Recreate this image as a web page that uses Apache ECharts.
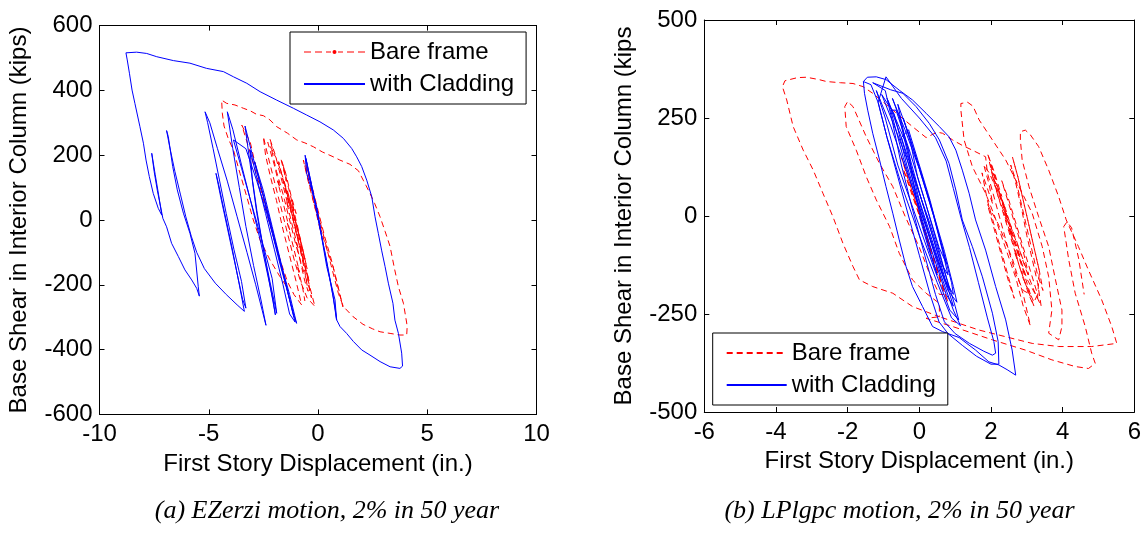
<!DOCTYPE html>
<html>
<head>
<meta charset="utf-8">
<script src="https://cdn.jsdelivr.net/npm/echarts@6/dist/echarts.min.js"></script>
<style>
html,body{margin:0;padding:0;background:#fff;}
#c{width:1144px;height:533px;}
</style>
</head>
<body>
<div id="c"></div>
<script>
// ---------------- data ----------------
const seriesNames = ['Bare frame', 'with Cladding'];
const captions = ['(a) EZerzi motion, 2% in 50 year', '(b) LPlgpc motion, 2% in 50 year'];
const xTitle = 'First Story Displacement (in.)';
const yTitles = ['Base Shear in Interior Column (kips)', 'Base Shear in Interior Column (kips'];

// (a) EZerzi – bare frame (red dashed)
const redLeft = [
[0.1,-30],[-0.25,70],[-0.5,140],[-0.67,185],[-0.45,120],[-0.23,62],[0.0,5],[0.23,-52],[0.45,-100],[0.69,-144],[0.9,-205],[1.14,-268],
[0.9,-200],[0.6,-120],[0.3,-50],[0.0,30],[-0.3,110],[-0.55,170],[-0.3,100],[0.0,20],[0.3,-60],[0.6,-140],[0.93,-226],[1.16,-267],
[1.60,-298],[2.06,-322],[2.5,-336],[2.84,-345],[3.3,-350],[3.75,-355],[4.06,-355],[4.08,-330],[4.06,-318],[3.91,-257],[3.68,-206],[3.5,-150],[3.30,-82],[3.07,-35],[2.84,10],[2.6,50],[2.38,82],[2.2,106],[2.07,123],[1.85,152],[1.46,172],[1.0,185],[0.70,195],[0.2,210],[-0.21,226],[-0.6,238],[-0.97,247],[-1.4,268],[-1.89,288],[-2.2,309],[-2.5,322],[-2.81,326],[-3.1,337],[-3.42,345],[-3.8,355],[-4.18,360],[-4.41,370],
[-4.38,330],[-4.3,290],[-4.1,250],[-3.87,216],[-3.57,144],[-3.26,72],[-2.96,0],[-2.65,-62],[-2.2,-123],[-1.74,-175],[-1.43,-206],
[-1.7,-140],[-2.0,-60],[-2.3,20],[-2.6,100],[-2.9,180],[-3.1,240],[-3.49,293],
[-3.2,230],[-2.9,160],[-2.6,90],[-2.3,10],[-2.0,-60],[-1.7,-130],[-1.4,-190],[-1.1,-230],[-0.75,-262],
[-1.0,-190],[-1.3,-110],[-1.6,-30],[-1.9,60],[-2.2,140],[-2.4,200],[-2.5,257],
[-2.3,200],[-2.0,120],[-1.7,40],[-1.4,-40],[-1.1,-120],[-0.8,-190],[-0.5,-240],[-0.14,-267],
[-0.4,-200],[-0.7,-120],[-1.0,-40],[-1.3,50],[-1.6,130],[-1.9,190],[-2.12,216],
[-1.9,150],[-1.6,80],[-1.3,0],[-1.0,-80],[-0.7,-150],[-0.4,-210],[-0.3,-240],
[-0.5,-170],[-0.8,-90],[-1.1,-10],[-1.4,70],[-1.7,150],[-1.8,180],
[-1.55,110],[-1.25,30],[-0.95,-50],[-0.65,-130],[-0.4,-190],
[-0.7,-110],[-1.0,-30],[-1.3,50],[-1.55,120],
[-1.3,60],[-1.0,-10],[-0.7,-90],[-0.5,-150],
[-0.8,-70],[-1.1,10],[-1.4,90],[-1.2,40],[-0.9,-40],[-0.6,-120],
[-0.8,-60],[-1.05,0],[-1.2,60],[-1.1,30],[-1.35,100],[-1.6,170],[-1.45,120],[-1.7,190],[-1.5,150],[-1.25,80],[-1.0,20],[-1.15,40],[-0.9,-30],[-0.7,-100],[-0.85,-80],[-0.6,-160],[-0.45,-220],[-0.6,-190],[-0.8,-130],[-1.0,-70],[-0.9,-90],[-1.2,-10],[-1.45,60],[-1.35,40],[-1.65,120],[-1.95,200],[-2.2,250],[-2.05,210],[-2.3,240],[-2.0,170],[-1.75,100],[-1.85,120],[-1.55,40],[-1.3,-30],[-1.4,-10],[-1.1,-90],[-0.85,-160],[-0.95,-140],[-0.7,-210],[-0.6,-250]
];

// (a) EZerzi – with cladding (blue solid)
const blueLeft = [
[0.1,-20],[-0.3,110],[-0.59,200],[-0.52,144],[-0.29,93],[-0.06,41],[0.09,-21],[0.24,-82],[0.40,-144],[0.55,-185],[0.78,-247],[0.85,-309],
[0.7,-240],[0.45,-150],[0.2,-60],[-0.05,30],[-0.3,110],[-0.55,190],[-0.45,150],[-0.2,70],[0.1,-30],[0.35,-110],[0.6,-200],[0.8,-280],[0.86,-309],
[1.01,-329],[1.31,-350],[1.62,-375],[2.0,-401],[2.38,-417],[2.84,-437],[3.30,-453],[3.75,-458],[3.87,-451],
[3.83,-411],[3.68,-350],[3.52,-309],[3.43,-257],[3.22,-195],[3.07,-144],[2.91,-93],[2.76,-41],[2.61,10],[2.46,72],[2.23,123],[2.0,165],[1.77,195],[1.54,221],[1.16,252],[0.70,278],[0.09,303],[-0.52,324],[-1.13,345],[-1.89,370],[-2.65,396],[-3.26,422],[-3.87,442],[-4.33,458],[-5.10,468],[-5.86,484],[-6.62,492],[-7.38,504],[-7.84,514],[-8.30,518],[-8.79,516],
[-8.73,494],[-8.63,453],[-8.51,401],[-8.38,360],[-8.15,288],[-7.99,237],[-7.87,185],[-7.72,134],[-7.54,82],[-7.31,36],[-7.15,15],
[-7.3,80],[-7.45,140],[-7.61,206],[-7.5,150],[-7.35,90],[-7.2,40],[-7.1,5],
[-6.93,-21],[-6.70,-72],[-6.39,-113],[-6.09,-154],[-5.78,-185],[-5.55,-211],[-5.43,-235],
[-5.48,-206],[-5.63,-103],[-5.86,-41],[-6.16,21],[-6.44,93],[-6.65,165],[-6.85,257],[-6.93,276],
[-6.80,230],[-6.55,150],[-6.3,80],[-6.05,10],[-5.8,-50],[-5.55,-100],[-5.2,-150],[-4.7,-195],[-4.2,-230],[-3.7,-262],[-3.37,-282],
[-3.6,-200],[-3.95,-80],[-4.3,30],[-4.55,110],[-4.67,144],[-4.45,70],[-4.1,-40],[-3.75,-150],[-3.45,-245],[-3.3,-272],
[-3.5,-190],[-3.85,-90],[-4.2,20],[-4.5,120],[-4.8,220],[-5.05,300],[-5.17,334],
[-4.95,300],[-4.6,220],[-4.15,120],[-3.7,10],[-3.25,-100],[-2.85,-200],[-2.55,-280],[-2.38,-325],
[-2.6,-250],[-2.95,-140],[-3.3,-20],[-3.6,100],[-3.9,220],[-4.15,334],
[-3.9,280],[-3.5,170],[-3.05,50],[-2.65,-60],[-2.3,-170],[-2.05,-250],[-1.95,-293],
[-2.2,-200],[-2.5,-90],[-2.8,30],[-3.1,170],[-3.34,290],
[-3.0,200],[-2.6,100],[-2.2,-10],[-1.8,-120],[-1.4,-220],[-1.1,-295],[-0.98,-319],
[-1.3,-230],[-1.8,-110],[-2.3,10],[-2.8,120],[-3.3,220],[-3.87,247],
[-3.5,160],[-3.0,40],[-2.5,-80],[-2.1,-180],[-1.89,-288],
[-2.2,-190],[-2.5,-90],[-2.8,20],[-3.0,120],[-3.11,216],
[-2.8,130],[-2.4,20],[-2.0,-90],[-1.6,-200],[-1.3,-290],[-1.05,-315],
[-1.4,-220],[-1.8,-110],[-2.2,0],[-2.6,100],[-2.9,180],
[-2.5,90],[-2.1,-20],[-1.7,-130],[-1.35,-230],[-1.1,-300]
];

// (b) LPlgpc – bare frame (red dashed)
const redRight = [
[0.3,-80],[0.0,10],[-0.3,90],[-0.5,150],[-0.25,80],[0.05,-10],[0.35,-100],[0.6,-170],[0.8,-220],[0.55,-150],[0.2,-50],[-0.15,40],[-0.45,120],[-0.2,60],[0.15,-40],[0.45,-120],[0.7,-200],[0.56,-200],
[0.3,-150],[0.0,-80],[-0.4,0],[-0.74,75],[-1.11,134],[-1.48,202],[-1.85,279],[-2.0,292],
[-2.08,279],[-2.04,228],[-1.76,168],[-1.48,100],[-1.20,41],[-0.83,-27],[-0.56,-95],[-0.19,-163],[0.19,-197],[0.56,-223],
[0.56,-257],[-0.19,-231],[-0.74,-197],[-1.30,-180],[-1.67,-163],[-1.85,-129],[-2.13,-70],[-2.41,-2],[-2.69,58],[-2.96,117],[-3.24,168],[-3.52,228],[-3.70,296],[-3.82,330],[-3.75,345],
[-3.4,353],[-3.15,354],[-2.8,348],[-2.59,343],[-2.2,340],[-1.85,338],[-1.57,330],
[-1.3,313],[-0.74,270],[-0.19,228],[0.19,200],[0.5,214],[0.65,211],[0.93,194],[1.2,180],[1.48,168],[1.85,151],
[1.9,110],[2.05,60],[2.2,10],[2.35,-40],[2.5,-90],[2.7,-150],[2.9,-190],[3.1,-200],
[2.9,-140],[2.7,-80],[2.5,-20],[2.3,40],[2.1,100],[1.95,140],
[2.1,80],[2.3,20],[2.5,-40],[2.7,-100],[2.9,-160],[3.2,-220],[3.3,-200],
[3.1,-140],[2.9,-80],[2.7,-20],[2.5,40],[2.3,90],
[2.5,30],[2.7,-30],[2.9,-90],[3.05,-150],
[2.85,-100],[2.6,-40],[2.4,20],[2.2,60],[2.0,120],[2.15,90],[1.9,160],[2.1,110],[2.3,50],[2.2,70],[2.45,0],[2.35,20],[2.6,-50],[2.5,-30],[2.75,-110],[2.65,-90],[2.95,-170],[3.2,-230],[3.05,-200],[2.85,-140],[2.95,-150],[2.7,-80],[2.55,-40],[2.6,-60],[2.35,10],[2.45,-10],[2.2,50],[2.05,100],[2.15,80],[2.4,20],[2.3,40],[2.55,-30],[2.8,-100],[2.75,-90],[3.0,-160],[3.3,-210],
[3.35,-140],[3.2,-80],[3.05,-20],[2.9,40],[2.75,100],[2.6,150],[2.75,100],[2.9,40],[3.05,-20],[3.2,-80],[3.35,-140],[3.45,-190],[3.3,-150],[3.15,-90],[3.0,-30],[2.85,30],[2.7,90],[2.55,130],[2.7,80],[2.85,20],[3.0,-50],[3.15,-110],[3.3,-170],[3.4,-230],
[3.2,-190],[2.95,-130],[2.7,-60],[2.45,0],[2.2,60],[1.95,110],[1.8,130],[1.95,80],[2.05,30],[1.9,70],[1.75,110],[1.9,40],[2.05,-10],[2.2,-60],[2.35,-110],[2.5,-160],[2.65,-210],[2.5,-170],[2.35,-120],[2.2,-70],[2.05,-20],[1.9,30],[2.2,-20],[2.6,-110],[2.9,-200],
[3.1,-280],[2.9,-230],[2.7,-160],[2.4,-80],[2.1,0],[1.85,58],[1.48,126],[1.25,194],[1.16,270],[1.16,287],[1.35,290],[1.5,280],[1.67,245],[2.04,194],[2.41,143],[2.78,75],[3.15,7],[3.43,-78],[3.61,-155],[3.70,-240],[3.61,-299],
[3.89,-316],[3.98,-282],[3.98,-240],[3.80,-163],[3.61,-78],[3.33,-2],[3.06,75],[2.87,143],[2.82,194],[2.82,215],[2.96,219],[3.10,207],[3.33,177],[3.61,117],[3.89,49],[4.1,-10],[4.44,-78],[4.72,-138],[5.09,-214],[5.37,-282],[5.51,-325],
[5.51,-329],[4.81,-333],[3.89,-333],[3.15,-325],[2.41,-308],[1.67,-291],[1.11,-274],[0.56,-257],
[0.19,-261],[0.93,-282],[2.04,-316],[2.96,-342],[3.70,-367],[4.35,-384],[4.72,-389],[4.91,-376],[4.81,-350],[4.63,-282],[4.35,-197],[4.17,-112],[4.03,-27],[4.12,-15],[4.25,-30],[4.45,-110],[4.6,-200]
];

// (b) LPlgpc – with cladding (blue solid)
const blueRight = [
[0.0,0],[0.25,-80],[0.5,-150],[0.3,-90],[0.0,10],[-0.2,100],[-0.3,170],
[-0.9,300],[-0.5,200],[0.0,60],[0.4,-60],[0.75,-170],[0.95,-230],[0.75,-200],[0.35,-90],[-0.05,30],[-0.45,150],[-0.8,270],
[-0.65,270],[-0.25,160],[0.15,40],[0.5,-70],[0.85,-190],[0.65,-150],[0.25,-40],[-0.15,80],[-0.5,200],
[-0.3,220],[0.0,130],[0.3,40],[0.55,-50],[0.75,-120],[0.55,-80],[0.25,10],[-0.05,100],[-0.25,190],
[-0.45,250],[-0.2,180],[0.1,90],[0.4,0],[0.65,-90],[0.8,-150],[0.6,-120],[0.3,-30],[0.0,60],[-0.3,160],[-0.5,240],
[-0.6,285],[-0.3,210],[0.05,110],[0.4,0],[0.7,-100],[0.9,-170],[0.95,-200],[0.7,-160],[0.35,-60],[0.0,40],[-0.3,150],[-0.55,250],
[-0.75,300],[-0.4,220],[0.0,120],[0.35,20],[0.7,-90],[0.95,-180],[1.05,-220],[0.8,-190],[0.45,-100],[0.05,10],[-0.35,130],[-0.7,260],
[-1.05,310],[-0.7,230],[-0.2,110],[0.3,-20],[0.7,-140],[1.0,-230],[1.1,-265],[0.85,-240],[0.4,-130],[-0.1,0],[-0.6,130],[-0.95,250],
[-1.2,320],[-0.8,230],[-0.3,100],[0.2,-30],[0.6,-150],[0.95,-240],[1.15,-280],[0.9,-260],[0.5,-170],[0.0,-50],[-0.5,80],[-0.9,200],[-1.15,290],
[-0.93,355],[-0.5,300],[0.0,250],[0.45,200],[0.75,140],[0.95,70],[1.15,0],[1.4,-80],[1.65,-170],[1.9,-260],[2.08,-320],[2.13,-350],[2.04,-355],[1.8,-345],[1.4,-325],[1.0,-300],[0.7,-270],[0.45,-200],[0.15,-100],[-0.2,20],[-0.5,130],[-0.75,240],[-0.95,320],
[-1.3,340],[-0.8,322],[-0.46,313],[-0.09,279],[0.28,236],[0.56,194],[0.83,134],[1.02,66],[1.20,-10],[1.48,-78],[1.76,-155],[2.04,-248],[2.2,-320],[2.22,-378],[2.0,-378],[1.6,-358],[1.2,-330],[0.8,-300],[0.55,-270],[0.3,-200],[0.0,-100],[-0.3,0],[-0.6,100],[-0.9,200],[-1.15,290],[-1.35,335],
[-1.56,343],[-1.45,354],[-1.2,355],[-0.93,348],[-0.56,321],[-0.19,296],[0.19,262],[0.56,228],[0.83,202],[1.02,168],[1.20,117],[1.39,58],[1.57,-10],[1.85,-87],[2.13,-180],[2.41,-265],[2.59,-342],[2.69,-406],[2.45,-392],[2.22,-380],[1.94,-372],[1.57,-342],[1.11,-310],[0.65,-295],[0.37,-282],[0.09,-231],[-0.19,-180],[-0.37,-129],[-0.56,-61],[-0.74,7],[-0.93,75],[-1.11,143],[-1.30,211],[-1.44,270],[-1.53,313],[-1.56,343]
];

// axis ranges / ticks
const xRange = [[-10, 10, 5], [-6, 6, 2]];
const yRange = [[-600, 600, 200], [-500, 500, 250]];

// ---------------- chart ----------------
const SANS = "'Liberation Sans', Arial, sans-serif";
const SERIF = "'Liberation Serif', 'Times New Roman', serif";
const RED = '#ff0000', BLUE = '#0000ff';
// legend icon: dashed line with a dot in the middle
const DASH_DOT_ICON = 'path://M0,2h7v1h-7z M11,2h7v1h-7z M22,2h5v1h-5z M28.5,2.5a2,2 0 1,0 4,0a2,2 0 1,0 -4,0z M34,2h5v1h-5z M43,2h7v1h-7z M54,2h7v1h-7z';

const chart = echarts.init(document.getElementById('c'), null, {renderer: 'canvas'});

const grids = [
  {left: 99.5, top: 25.6, width: 437, height: 388.8},
  {left: 704.3, top: 20, width: 431.7, height: 392}
];

function axisBase(extra) {
  return Object.assign({
    type: 'value',
    axisLine: {show: true, onZero: false, lineStyle: {color: '#000', width: 1}},
    axisTick: {show: true, inside: true, length: 5, lineStyle: {color: '#000', width: 1}},
    splitLine: {show: false},
    axisLabel: {color: '#000', fontSize: 24, fontFamily: SANS}
  }, extra);
}

const xAxes = [], yAxes = [];
[0, 1].forEach(g => {
  const [xmin, xmax, xi] = xRange[g];
  const [ymin, ymax, yi] = yRange[g];
  xAxes.push(axisBase({
    gridIndex: g, min: xmin, max: xmax, interval: xi, position: 'bottom',
    name: xTitle, nameLocation: 'middle', nameGap: g === 0 ? 38 : 36,
    nameTextStyle: {color: '#000', fontSize: 24, fontFamily: SANS},
    axisLabel: {color: '#000', fontSize: 24, fontFamily: SANS, margin: 8}
  }));
  xAxes.push(axisBase({
    gridIndex: g, min: xmin, max: xmax, interval: xi, position: 'top',
    axisLabel: {show: false}
  }));
  yAxes.push(axisBase({
    gridIndex: g, min: ymin, max: ymax, interval: yi, position: 'left',
    name: yTitles[g], nameLocation: 'middle', nameGap: 68,
    nameTextStyle: {color: '#000', fontSize: 24, fontFamily: SANS},
    axisLabel: {color: '#000', fontSize: 24, fontFamily: SANS, margin: 7}
  }));
  yAxes.push(axisBase({
    gridIndex: g, min: ymin, max: ymax, interval: yi, position: 'right',
    axisLabel: {show: false}
  }));
});

function lineSeries(name, data, g, color, dashed) {
  return {
    type: 'line', name: name, data: data,
    xAxisIndex: g * 2, yAxisIndex: g * 2,
    symbol: 'none', showSymbol: false,
    lineStyle: {color: color, width: 1, type: dashed ? [6, 4] : 'solid'},
    itemStyle: {color: color},
    animation: false, silent: true, clip: true
  };
}

const legendText = {fontSize: 24, fontFamily: SANS, color: '#000', lineHeight: 24};

chart.setOption({
  backgroundColor: '#fff',
  animation: false,
  grid: grids,
  xAxis: xAxes,
  yAxis: yAxes,
  legend: [
    {
      orient: 'vertical', left: 290, top: 32,
      padding: [8, 12, 8, 13], itemGap: 8,
      itemWidth: 61, itemHeight: 5,
      borderColor: '#000', borderWidth: 1, backgroundColor: '#fff',
      textStyle: legendText, selectedMode: false,
      data: [{name: seriesNames[0], icon: DASH_DOT_ICON}, {name: seriesNames[1], itemStyle: {opacity: 0}}]
    },
    {
      orient: 'vertical', left: 712.7, top: 333,
      padding: [8, 12, 8, 13], itemGap: 8,
      itemWidth: 60, itemHeight: 5,
      borderColor: '#000', borderWidth: 1, backgroundColor: '#fff',
      textStyle: legendText, selectedMode: false,
      itemStyle: {opacity: 0},
      data: [{name: seriesNames[0], itemStyle: {opacity: 0}}, {name: seriesNames[1], itemStyle: {opacity: 0}}]
    }
  ],
  series: [
    lineSeries(seriesNames[0], redLeft, 0, RED, true),
    lineSeries(seriesNames[1], blueLeft, 0, BLUE, false),
    lineSeries(seriesNames[0], redRight, 1, RED, true),
    lineSeries(seriesNames[1], blueRight, 1, BLUE, false)
  ],
  graphic: [
    {type: 'text', x: 327, y: 511, silent: true,
     style: {text: captions[0], fill: '#000', font: 'italic 26px ' + SERIF, textAlign: 'center', textVerticalAlign: 'middle', verticalAlign: 'middle'}},
    {type: 'text', x: 899.5, y: 511, silent: true,
     style: {text: captions[1], fill: '#000', font: 'italic 26px ' + SERIF, textAlign: 'center', textVerticalAlign: 'middle', verticalAlign: 'middle'}}
  ]
});
</script>
</body>
</html>
